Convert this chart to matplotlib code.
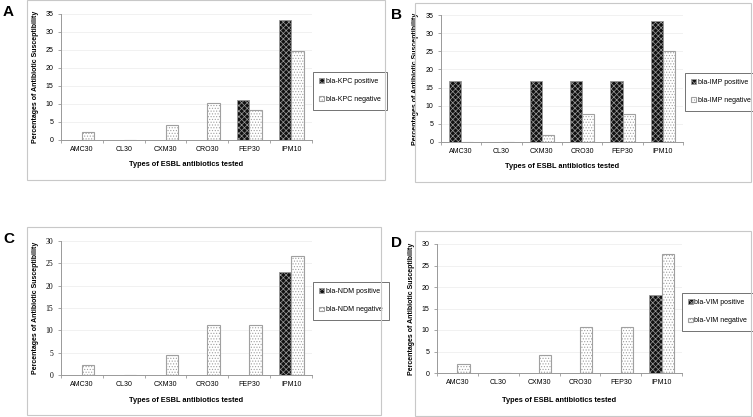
import numpy as np
import matplotlib
matplotlib.use("Agg")
import matplotlib.pyplot as plt
from matplotlib.patches import Rectangle

plt.rcParams['font.family'] = ['Liberation Sans', 'DejaVu Sans']
plt.rcParams['hatch.linewidth'] = 0.5

# data
antibiotics = ['AMC30', 'CL30', 'CXM30', 'CRO30', 'FEP30', 'IPM10']
kpc_pos = [0, 0, 0, 0, 11.2, 33.3]
kpc_neg = [2.1, 0, 4.2, 10.4, 8.3, 24.6]
imp_pos = [16.7, 0, 16.7, 16.7, 16.7, 33.3]
imp_neg = [0, 0, 1.9, 7.7, 7.7, 25.0]
ndm_pos = [0, 0, 0, 0, 0, 23.1]
ndm_neg = [2.2, 0, 4.4, 11.1, 11.1, 26.7]
vim_pos = [0, 0, 0, 0, 0, 18.2]
vim_neg = [2.1, 0, 4.3, 10.7, 10.7, 27.7]

W, H = 753, 417
fig = plt.figure(figsize=(W / 100, H / 100), dpi=100)


#pixel box (left, top, right, bottom) -> figure fraction rect
def frac(l, t, r, b):
    return [l / W, 1 - b / H, (r - l) / W, (b - t) / H]


def panel(letter, box, ax_px, leg_px, ymax, pos, neg, gene, xpad, serif_y=False):
    # grey frame around each panel
    bl, bt, br, bb = box
    fig.patches.append(Rectangle((bl / W, 1 - bb / H), (br - bl) / W, (bb - bt) / H,
                                 transform=fig.transFigure, fill=False,
                                 edgecolor='#c8c8c8', linewidth=0.8))
    fig.text((bl - 24) / W, 1 - (bt + 5) / H, letter, fontsize=11, fontweight='bold',
             va='top', ha='left')

    ax = fig.add_axes(frac(*ax_px))
    x = np.arange(len(antibiotics))
    w = 0.3
    b1 = ax.bar(x - w / 2, pos, w, color='#111111', edgecolor='#9a9a9a', hatch='xxxxxx',
                linewidth=0.6, zorder=3)
    b2 = ax.bar(x + w / 2, neg, w, color='white', edgecolor='#a0a0a0', hatch='......',
                linewidth=0.8, zorder=3)
    ax.set_xlim(-0.5, len(antibiotics) - 0.5)
    ax.set_ylim(0, ymax)
    ax.set_yticks(np.arange(0, ymax + 1, 5))
    ax.set_xticks(x)
    ax.set_xticklabels(antibiotics, fontsize=5)
    ax.set_xticks(np.arange(-0.5, len(antibiotics)), minor=True)
    ax.tick_params(axis='x', which='major', length=0, pad=4)
    ax.tick_params(axis='x', which='minor', length=2.5, color='#999999', width=0.6)
    ax.tick_params(axis='y', length=2.5, color='#999999', width=0.6, labelsize=5, pad=3)
    if serif_y:
        for t in ax.get_yticklabels():
            t.set_family(['Liberation Serif', 'DejaVu Serif'])
            t.set_fontsize(5.5)
    ax.grid(axis='y', color='#ececec', linewidth=0.5, zorder=0)
    for s in ['top', 'right']:
        ax.spines[s].set_visible(False)
    for s in ['left', 'bottom']:
        ax.spines[s].set_color('#999999')
        ax.spines[s].set_linewidth(0.7)
    ax.set_ylabel('Percentages of Antibiotic Susceptibility', fontsize=5, fontweight='bold',
                  labelpad=5)
    ax.set_xlabel('Types of ESBL antibiotics tested', fontsize=5.3, fontweight='bold',
                  labelpad=xpad)

    ll, lt, lr, lb = leg_px
    leg = ax.legend([b1, b2], ['bla-' + gene + ' positive', 'bla-' + gene + ' negative'],
                    loc='upper left', bbox_to_anchor=(ll / W, 1 - lt / H),
                    bbox_transform=fig.transFigure, fontsize=5, frameon=True,
                    fancybox=False, handlelength=0.7, handleheight=0.7,
                    handletextpad=0.2, labelspacing=1.6, borderpad=0.9,
                    borderaxespad=0)
    leg.get_frame().set_edgecolor('#333333')
    leg.get_frame().set_linewidth(0.6)
    return ax


panel('A', (27, 0, 385, 180), (61, 14, 312, 140), (313, 72, 382, 111), 35,
      kpc_pos, kpc_neg, 'KPC', 6)
panel('B', (415, 3, 751, 182), (441, 15, 683, 142), (685, 73, 749, 113), 35,
      imp_pos, imp_neg, 'IMP', 6)
panel('C', (27, 227, 381, 415), (61, 241, 312, 375), (313, 282, 378, 324), 30,
      ndm_pos, ndm_neg, 'NDM', 7, serif_y=True)
panel('D', (415, 231, 751, 416), (437, 244, 682, 373), (682, 293, 751, 345), 30,
      vim_pos, vim_neg, 'VIM', 8)

fig.savefig('out.png', dpi=100)
